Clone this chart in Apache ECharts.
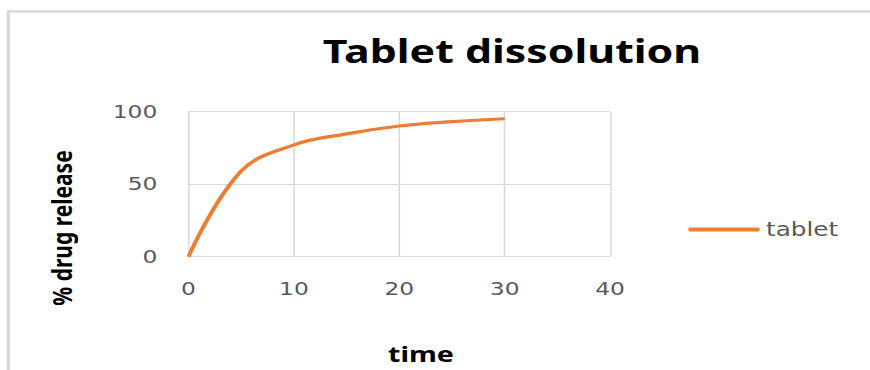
<!DOCTYPE html>
<html>
<head>
<meta charset="utf-8">
<title>Tablet dissolution</title>
<script src="https://cdn.jsdelivr.net/npm/echarts@6/dist/echarts.min.js"></script>
<style>
  html, body { margin: 0; padding: 0; background: #ffffff; overflow: hidden; }
  #main {
    width: 670px;
    height: 370px;
    transform: scaleX(1.29851);
    transform-origin: 0 0;
  }
</style>
</head>
<body>
<div id="main"></div>
<script>
// Dissolution profile: time points and cumulative % drug released
const times = [0, 5, 10, 15, 20, 25, 30];
const release = [0, 59, 77, 84.6, 90, 93, 95];
const seriesName = 'tablet';
const xTicks = { min: 0, max: 40, step: 10 };
const yTicks = { min: 0, max: 100, step: 50 };

const chart = echarts.init(document.getElementById('main'), null, { renderer: 'svg' });

const gridColor = '#d9d9d9';
const labelColor = '#595959';
const lineColor = '#ED7D31';

chart.setOption({
  animation: false,
  backgroundColor: '#ffffff',
  grid: { left: 145.2, right: 200.2, top: 111.5, bottom: 113.3, containLabel: false },
  legend: {
    data: [{ name: seriesName, icon: 'roundRect' }],
    left: 525.2,
    top: 215,
    itemWidth: 54.7,
    itemHeight: 4,
    itemGap: 5,
    itemStyle: { color: lineColor },
    textStyle: { color: labelColor, fontFamily: 'DejaVu Sans', fontSize: 19 }
  },
  xAxis: {
    type: 'value',
    min: xTicks.min,
    max: xTicks.max,
    interval: xTicks.step,
    axisLine: { show: true, lineStyle: { color: gridColor, width: 1.2 } },
    axisTick: { show: false },
    splitLine: { show: true, lineStyle: { color: gridColor, width: 1.2 } },
    axisLabel: { color: labelColor, fontFamily: 'DejaVu Sans', fontSize: 18, margin: 23 }
  },
  yAxis: {
    type: 'value',
    min: yTicks.min,
    max: yTicks.max,
    interval: yTicks.step,
    axisLine: { show: false },
    axisTick: { show: false },
    splitLine: { show: true, lineStyle: { color: gridColor, width: 1.2 } },
    axisLabel: { color: labelColor, fontFamily: 'DejaVu Sans', fontSize: 18, margin: 24 }
  },
  series: [{
    name: seriesName,
    type: 'line',
    data: times.map((t, i) => [t, release[i]]),
    smooth: 0.4,
    symbol: 'none',
    lineStyle: { color: lineColor, width: 3.2 },
    itemStyle: { color: lineColor }
  }],
  graphic: [
    {
      type: 'rect',
      silent: true,
      shape: { x: 6.4, y: 11.5, width: 1000, height: 1000 },
      style: { fill: 'none', stroke: gridColor, lineWidth: 2.5 }
    },
    {
      type: 'text',
      x: 394.3,
      y: 50,
      style: {
        text: 'Tablet dissolution',
        fill: '#000000',
        font: 'bold 33px "Noto Sans"',
        textAlign: 'center',
        textVerticalAlign: 'middle'
      }
    },
    {
      type: 'text',
      x: 47,
      y: 228,
      rotation: Math.PI / 2,
      style: {
        text: '% drug release',
        fill: '#000000',
        font: 'bold 21px "Noto Sans"',
        textAlign: 'center',
        textVerticalAlign: 'middle'
      }
    },
    {
      type: 'text',
      x: 324.2,
      y: 353,
      style: {
        text: 'time',
        fill: '#000000',
        font: 'bold 22px "Noto Sans"',
        textAlign: 'center',
        textVerticalAlign: 'middle'
      }
    }
  ]
});
</script>
</body>
</html>
